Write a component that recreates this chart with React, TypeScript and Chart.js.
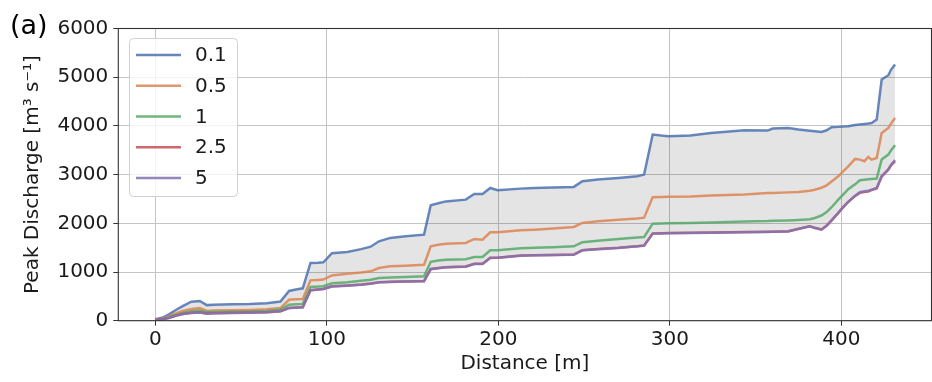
import React, { useEffect, useRef } from 'react';
import { Chart, registerables } from 'chart.js';

Chart.register(...registerables);

const distances = [0, 4, 8, 12, 16, 21, 26, 30, 34, 45, 55, 65, 73, 78, 82, 86, 90.5, 95, 98, 103, 112, 120, 125.6, 130.4, 137, 146, 156.7, 160.6, 165, 169.4, 181, 186, 190.8, 195.3, 199.6, 213, 221, 232, 244, 249, 258, 270, 281, 285, 290, 295, 299, 312, 324, 343.6, 357, 360, 369, 375, 381.6, 384.5, 388.4, 391.4, 394.3, 398.2, 401, 404, 408, 410.8, 413.4, 415.7, 417.6, 420.6, 423.5, 427.4, 429, 431.3];

const q01 = [30, 60, 130, 220, 300, 390, 405, 320, 330, 340, 345, 360, 395, 610, 640, 665, 1185, 1190, 1200, 1385, 1410, 1470, 1520, 1630, 1700, 1735, 1767, 2370, 2410, 2450, 2486, 2603, 2603, 2726, 2680, 2712, 2726, 2735, 2747, 2862, 2897, 2932, 2965, 3000, 3822, 3801, 3790, 3801, 3856, 3910, 3904, 3945, 3959, 3924, 3900, 3890, 3877, 3910, 3972, 3980, 3990, 3993, 4020, 4030, 4040, 4048, 4060, 4130, 4952, 5040, 5157, 5260];
const q05 = [20, 40, 90, 150, 200, 240, 258, 200, 210, 215, 222, 235, 260, 430, 440, 445, 828, 838, 845, 930, 966, 990, 1014, 1082, 1116, 1130, 1150, 1527, 1560, 1582, 1596, 1678, 1664, 1815, 1815, 1856, 1870, 1895, 1925, 2007, 2040, 2075, 2100, 2115, 2534, 2540, 2545, 2548, 2570, 2589, 2620, 2623, 2635, 2644, 2670, 2690, 2730, 2780, 2860, 2965, 3068, 3171, 3322, 3308, 3274, 3363, 3308, 3342, 3856, 3959, 4050, 4164];
const q1 = [15, 30, 70, 120, 160, 195, 210, 175, 180, 185, 190, 200, 226, 330, 338, 342, 692, 700, 708, 770, 790, 820, 842, 875, 885, 897, 911, 1210, 1235, 1253, 1262, 1308, 1310, 1445, 1448, 1486, 1500, 1510, 1527, 1609, 1640, 1678, 1710, 1719, 1993, 1998, 2000, 2005, 2015, 2035, 2045, 2050, 2060, 2070, 2085, 2110, 2160, 2230, 2330, 2486, 2590, 2700, 2800, 2884, 2895, 2905, 2910, 2918, 3308, 3411, 3500, 3602];
const q25 = [12, 28, 58, 104, 139, 162, 172, 148, 155, 161, 166, 175, 195, 263, 271, 277, 626, 643, 653, 706, 723, 743, 763, 790, 800, 806, 813, 1061, 1081, 1099, 1113, 1167, 1169, 1291, 1295, 1338, 1346, 1351, 1359, 1448, 1471, 1496, 1531, 1544, 1791, 1796, 1799, 1804, 1809, 1821, 1826, 1829, 1835, 1887, 1941, 1907, 1873, 1951, 2061, 2215, 2331, 2441, 2560, 2625, 2640, 2650, 2680, 2715, 2960, 3100, 3190, 3270];
const q5 = [10, 25, 55, 100, 135, 158, 168, 145, 152, 158, 163, 172, 192, 260, 268, 274, 623, 640, 650, 703, 720, 740, 760, 787, 797, 803, 810, 1058, 1078, 1096, 1110, 1164, 1166, 1288, 1292, 1335, 1343, 1348, 1356, 1445, 1468, 1493, 1528, 1541, 1788, 1793, 1796, 1801, 1806, 1818, 1823, 1826, 1832, 1884, 1938, 1904, 1870, 1948, 2058, 2212, 2328, 2438, 2568, 2637, 2660, 2670, 2692, 2726, 2965, 3110, 3205, 3300];

const seriesLabels = ['0.1', '0.5', '1', '2.5', '5'];
const seriesValues = [q01, q05, q1, q25, q5];
const seriesColors = [
  'rgba(76,114,176,0.85)',
  'rgba(221,132,82,0.85)',
  'rgba(85,168,104,0.85)',
  'rgba(196,78,82,0.85)',
  'rgba(129,114,179,0.85)',
];
const xTicks = [0, 100, 200, 300, 400];
const yTicks = [0, 1000, 2000, 3000, 4000, 5000, 6000];

const FONT = 'DejaVu Sans';

const decorPlugin = {
  id: 'decor',
  afterDraw(chart: any) {
    const ctx = chart.ctx as CanvasRenderingContext2D;
    const a = chart.chartArea;
    ctx.save();
    // spines
    ctx.strokeStyle = '#333333';
    ctx.lineWidth = 1.1;
    ctx.strokeRect(a.left, a.top, a.right - a.left, a.bottom - a.top);
    // panel label
    ctx.fillStyle = '#000000';
    ctx.font = `27px "${FONT}"`;
    ctx.textAlign = 'left';
    ctx.textBaseline = 'alphabetic';
    ctx.fillText('(a)', 10, 34);
    // legend
    const lx = 129.5, ly = 38.5, lw = 108, lh = 158;
    ctx.beginPath();
    (ctx as any).roundRect(lx, ly, lw, lh, 4);
    ctx.fillStyle = 'rgba(255,255,255,0.8)';
    ctx.fill();
    ctx.strokeStyle = 'rgba(204,204,204,0.9)';
    ctx.lineWidth = 1;
    ctx.stroke();
    ctx.font = `20px "${FONT}"`;
    ctx.textBaseline = 'middle';
    chart.data.datasets.forEach((ds: any, i: number) => {
      const y = 55 + i * 30.75;
      ctx.beginPath();
      ctx.moveTo(136, y);
      ctx.lineTo(181, y);
      ctx.strokeStyle = ds.borderColor;
      ctx.lineWidth = 2.5;
      ctx.stroke();
      ctx.fillStyle = '#1a1a1a';
      ctx.fillText(ds.label, 195, y + 1);
    });
    ctx.restore();
  },
};

export default function App() {
  const ref = useRef<HTMLCanvasElement | null>(null);
  useEffect(() => {
    document.body.style.margin = '0';
    if (!ref.current) return;
    const datasets = seriesLabels.map((label, i) => ({
      label,
      data: distances.map((d, j) => ({ x: d, y: seriesValues[i][j] })),
      borderColor: seriesColors[i],
      borderWidth: 2.5,
      pointRadius: 0,
      tension: 0,
      fill: i === 0 ? 4 : false,
      backgroundColor: i === 0 ? 'rgba(0,0,0,0.105)' : seriesColors[i],
      order: 5 - i,
    }));
    const tickFont = { family: FONT, size: 20 };
    const plain = (v: any) => String(v);
    const chart = new Chart(ref.current, {
      type: 'line',
      data: { datasets },
      plugins: [decorPlugin],
      options: {
        responsive: false,
        animation: false,
        layout: { padding: { top: 28.5, right: 0.5, left: 0, bottom: 0 } },
        plugins: { legend: { display: false }, tooltip: { enabled: false } },
        scales: {
          x: {
            type: 'linear',
            min: -21.55,
            max: 452.55,
            afterBuildTicks: (s: any) => { s.ticks = xTicks.map((v) => ({ value: v })); },
            afterFit: (s: any) => { s.height = 61.3; },
            grid: { color: '#c4c4c4', lineWidth: 1, tickLength: 5, tickColor: '#333333' },
            border: { display: false },
            ticks: { font: tickFont, color: '#1a1a1a', padding: 2, maxRotation: 0, callback: plain },
            title: { display: true, text: 'Distance [m]', font: { family: FONT, size: 20 }, color: '#1a1a1a', padding: { top: 0, bottom: 6 } },
          },
          y: {
            type: 'linear',
            min: 0,
            max: 6000,
            afterBuildTicks: (s: any) => { s.ticks = yTicks.map((v) => ({ value: v })); },
            afterFit: (s: any) => { s.width = 118.3; },
            grid: { color: '#c4c4c4', lineWidth: 1, tickLength: 5, tickColor: '#333333' },
            border: { display: false },
            ticks: { font: tickFont, color: '#1a1a1a', padding: 5, callback: plain },
            title: { display: true, text: 'Peak Discharge [m³ s⁻¹]', font: { family: FONT, size: 20 }, color: '#1a1a1a', padding: { top: 21, bottom: 0 } },
          },
        },
      } as any,
    });
    return () => chart.destroy();
  }, []);
  return <canvas ref={ref} width={932} height={382} style={{ display: 'block' }} />;
}
